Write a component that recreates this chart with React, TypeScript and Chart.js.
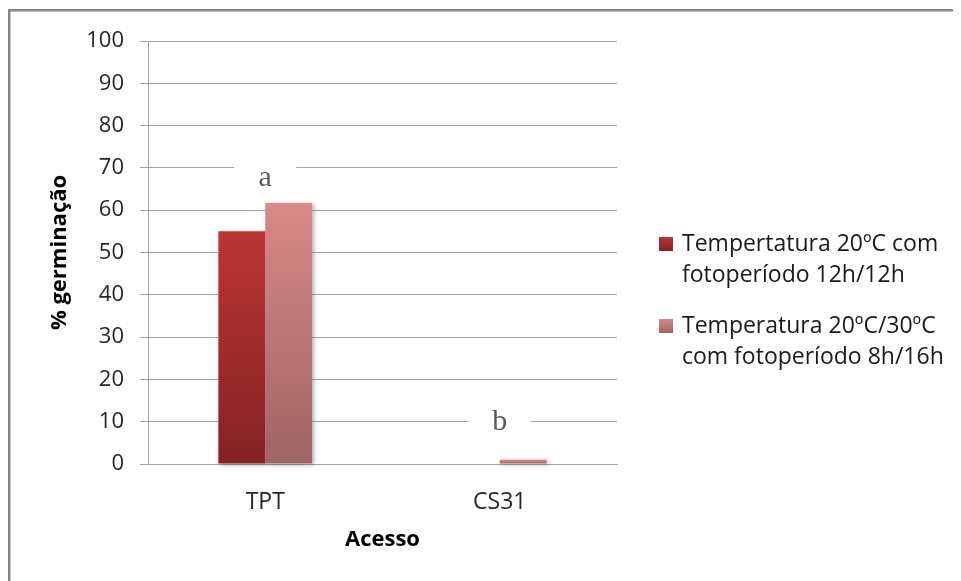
import React, { useEffect, useRef } from 'react';
import { Chart, registerables } from 'chart.js';

Chart.register(...registerables);

// Germination data per accession
const categories = ['TPT', 'CS31'];
const seriesLabels = [
  ['Tempertatura 20ºC com', 'fotoperíodo 12h/12h'],
  ['Temperatura 20ºC/30ºC', 'com fotoperíodo 8h/16h'],
];
const constantTemperature = [55, 0];
const alternatingTemperature = [61.7, 1];
const yTickValues = [0, 10, 20, 30, 40, 50, 60, 70, 80, 90, 100];
const groupLetters = ['a', 'b'];
const letterLevels = [67.5, 10];

const FONT = '"Open Sans", "Noto Sans", sans-serif';
const CANVAS_W = 953;
const CANVAS_H = 573;
const FRAME = 3; // frame thickness on the left and top edges

const barGradients = [
  ['#BB3535', '#852222'],
  ['#DA8888', '#9F6464'],
];

function barFill(datasetIndex: number) {
  return (ctx: any) => {
    const chart = ctx.chart;
    const yScale = chart.scales?.y;
    if (!chart.chartArea || !yScale) return barGradients[datasetIndex][0];
    const v = ctx.raw ?? 0;
    const top = yScale.getPixelForValue(v);
    const bottom = yScale.getPixelForValue(0);
    const g = chart.ctx.createLinearGradient(0, top, 0, Math.max(bottom, top + 1));
    g.addColorStop(0, barGradients[datasetIndex][0]);
    g.addColorStop(1, barGradients[datasetIndex][1]);
    return g;
  };
}

// frame line along the left and top edges of the chart box
const chartFrame = {
  id: 'chartFrame',
  beforeDraw(chart: any) {
    const ctx = chart.ctx;
    ctx.save();
    ctx.fillStyle = '#878787';
    ctx.fillRect(0, 0, FRAME - 0.5, chart.height);
    ctx.fillRect(0, 0, chart.width, FRAME - 0.5);
    ctx.restore();
  },
};

// soft shadow cast by each bar, painted just before the bars themselves
const barShadow = {
  id: 'barShadow',
  beforeDatasetsDraw(chart: any) {
    const ctx = chart.ctx;
    chart.data.datasets.forEach((_ds: any, di: number) => {
      const meta = chart.getDatasetMeta(di);
      meta.data.forEach((bar: any) => {
        const { x, y, base, width } = bar.getProps(['x', 'y', 'base', 'width'], true);
        const h = base - y;
        if (h <= 0.5) return;
        ctx.save();
        ctx.shadowColor = 'rgba(0,0,0,0.30)';
        ctx.shadowBlur = 4;
        ctx.shadowOffsetX = 2;
        ctx.shadowOffsetY = 1;
        ctx.fillStyle = '#ffffff';
        ctx.fillRect(x - width / 2, y, width, h);
        ctx.restore();
      });
    });
  },
};

// significance letters above each accession, on a white box
const letterMarks = {
  id: 'letterMarks',
  afterDatasetsDraw(chart: any) {
    const ctx = chart.ctx;
    const xs = chart.scales.x;
    const ys = chart.scales.y;
    ctx.save();
    groupLetters.forEach((letter, i) => {
      const x = xs.getPixelForValue(i);
      const y = ys.getPixelForValue(letterLevels[i]);
      ctx.fillStyle = '#ffffff';
      ctx.fillRect(x - 31, y - 18, 62, 36);
      ctx.fillStyle = '#595959';
      ctx.font = '30px "Liberation Serif", "Times New Roman", serif';
      ctx.textAlign = 'center';
      ctx.textBaseline = 'middle';
      ctx.fillText(letter, x, y);
    });
    ctx.restore();
  },
};

// two-line legend to the right of the plot
const sideLegend = {
  id: 'sideLegend',
  afterDraw(chart: any) {
    const ctx = chart.ctx;
    const area = chart.chartArea;
    const swatchX = area.right + 42;
    const textX = swatchX + 23;
    const lineH = 31;
    const itemGap = 82;
    const firstY = area.top + 203;
    ctx.save();
    ctx.font = `23px ${FONT}`;
    ctx.textAlign = 'left';
    ctx.textBaseline = 'middle';
    chart.data.datasets.forEach((ds: any, i: number) => {
      const y = firstY + i * itemGap;
      const g = ctx.createLinearGradient(0, y - 7, 0, y + 7);
      g.addColorStop(0, barGradients[i][0]);
      g.addColorStop(1, barGradients[i][1]);
      ctx.fillStyle = g;
      ctx.fillRect(swatchX, y - 7, 14, 14);
      ctx.fillStyle = '#1a1a1a';
      (ds.label as string).split('\n').forEach((line: string, k: number) => {
        ctx.fillText(line, textX, y + k * lineH);
      });
    });
    ctx.restore();
  },
};

export default function App() {
  const canvasRef = useRef<HTMLCanvasElement | null>(null);

  useEffect(() => {
    document.documentElement.style.overflow = 'hidden';
    document.body.style.overflow = 'hidden';
    const canvas = canvasRef.current;
    if (!canvas) return;
    const gridColor = '#A3A3A3';
    const plotLeft = 140;
    const plotRight = 609;
    const plotTop = 32;
    const plotBottom = 455;
    const chart = new Chart(canvas, {
      type: 'bar',
      data: {
        labels: categories,
        datasets: [
          {
            label: seriesLabels[0].join('\n'),
            data: constantTemperature,
            backgroundColor: barFill(0),
            barPercentage: 1,
            categoryPercentage: 0.4,
          },
          {
            label: seriesLabels[1].join('\n'),
            data: alternatingTemperature,
            backgroundColor: barFill(1),
            barPercentage: 1,
            categoryPercentage: 0.4,
          },
        ],
      },
      options: {
        responsive: false,
        animation: false,
        devicePixelRatio: 1,
        layout: { padding: { left: 0, right: CANVAS_W - plotRight, top: plotTop, bottom: 0 } },
        plugins: {
          legend: { display: false },
          tooltip: { enabled: false },
        },
        scales: {
          x: {
            grid: { display: false },
            border: { display: true, color: gridColor, width: 1 },
            ticks: { color: '#262626', font: { family: FONT, size: 23 }, padding: 17 },
            title: {
              display: true,
              text: 'Acesso',
              color: '#000000',
              font: { family: FONT, size: 22, weight: 'bold' },
              padding: { top: 0, bottom: 29 },
            },
            afterFit(scale: any) {
              scale.height = CANVAS_H - plotBottom;
            },
          },
          y: {
            min: 0,
            max: 100,
            afterBuildTicks(scale: any) {
              scale.ticks = yTickValues.map((v) => ({ value: v }));
            },
            grid: { color: gridColor, lineWidth: 1, tickLength: 8, drawTicks: true },
            border: { display: true, color: gridColor, width: 1 },
            ticks: { color: '#262626', font: { family: FONT, size: 22 }, padding: 16 },
            title: {
              display: true,
              text: '% germinação',
              color: '#000000',
              font: { family: FONT, size: 22, weight: 'bold' },
              padding: { top: 39, bottom: 0 },
            },
            afterFit(scale: any) {
              scale.width = plotLeft;
            },
          },
        },
      },
      plugins: [chartFrame, barShadow, letterMarks, sideLegend],
    } as any);
    return () => chart.destroy();
  }, []);

  return (
    <div style={{ position: 'relative', marginTop: 1, width: CANVAS_W, height: CANVAS_H }}>
      <canvas
        ref={canvasRef}
        width={CANVAS_W}
        height={CANVAS_H}
        style={{ display: 'block', width: CANVAS_W, height: CANVAS_H }}
      />
    </div>
  );
}
